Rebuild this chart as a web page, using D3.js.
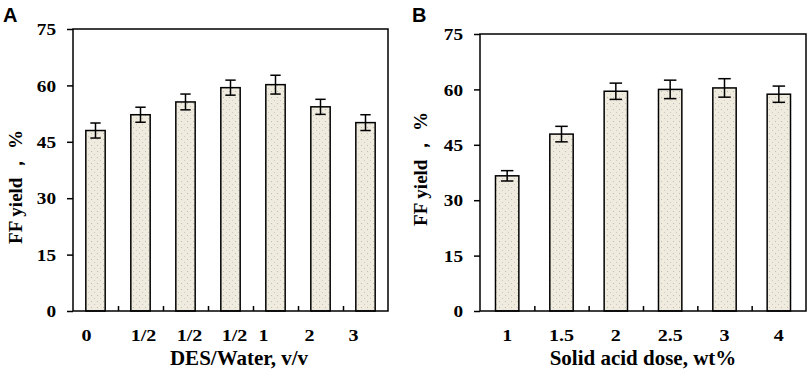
<!DOCTYPE html>
<html>
<head>
<meta charset="utf-8">
<script src="https://cdn.jsdelivr.net/npm/d3@7"></script>
<style>
  body { margin: 0; background: #fff; }
  svg { display: block; }
  .tick text { font-family: "Liberation Serif", "Times New Roman", serif; font-weight: bold; fill: #000; }
</style>
</head>
<body>
<svg id="chart" width="809" height="377"></svg>
<script>
// values
const catsA = ["0", "1/2", "1/2", "1/2", "1", "2", "3"];
const yieldA = [48.0, 52.2, 55.6, 59.4, 60.2, 54.3, 50.1];
const errA = [2.0, 2.0, 2.1, 2.0, 2.5, 2.0, 2.1];
const labelShiftA = [-9, 3, 4, 4, -12, -11, -12];

const catsB = ["1", "1.5", "2", "2.5", "3", "4"];
const yieldB = [36.6, 47.9, 59.5, 60.0, 60.4, 58.7];
const errB = [1.4, 2.1, 2.2, 2.5, 2.5, 2.2];
const labelShiftB = [0, 0, 0, 0, 0, 0];

const yTicks = [0, 15, 30, 45, 60, 75];

const svg = d3.select("#chart");
const serif = '"Liberation Serif", "Times New Roman", serif';

// dotted beige fill used by the bars
const defs = svg.append("defs");
const pat = defs.append("pattern")
    .attr("id", "dots")
    .attr("patternUnits", "userSpaceOnUse")
    .attr("width", 6).attr("height", 6);
pat.append("rect").attr("width", 6).attr("height", 6).attr("fill", "#efebde");
pat.append("circle").attr("cx", 1.5).attr("cy", 1.5).attr("r", 0.55).attr("fill", "#b9b6ad");
pat.append("circle").attr("cx", 4.5).attr("cy", 4.5).attr("r", 0.55).attr("fill", "#c9c6bd");

function drawPanel(p) {
    var n = p.cats.length;
    var g = svg.append("g");

    var x = d3.scaleBand()
        .domain(d3.range(n))
        .range([p.left, p.right])
        .padding(0);
    var xEdge = d3.scaleLinear().domain([0, n]).range([p.left, p.right]);
    var y = d3.scaleLinear().domain([0, 75]).range([p.bottom, p.top]);

    var bw = x.bandwidth() * 0.43;
    var cap = x.bandwidth() * 0.23;

    // bars
    g.selectAll("rect.bar")
        .data(p.values)
        .enter()
        .append("rect")
        .attr("class", "bar")
        .attr("x", (d, i) => x(i) + x.bandwidth() / 2 - bw / 2)
        .attr("y", d => y(d))
        .attr("width", bw)
        .attr("height", d => y(0) - y(d))
        .attr("fill", "url(#dots)")
        .attr("stroke", "#000")
        .attr("stroke-width", 1.5);

    // error bars
    var eb = g.selectAll("g.err")
        .data(p.values)
        .enter()
        .append("g")
        .attr("class", "err")
        .attr("stroke", "#000")
        .attr("stroke-width", 1.5);
    eb.append("line")
        .attr("x1", (d, i) => x(i) + x.bandwidth() / 2)
        .attr("x2", (d, i) => x(i) + x.bandwidth() / 2)
        .attr("y1", (d, i) => y(d + p.errs[i]))
        .attr("y2", (d, i) => y(d - p.errs[i]));
    eb.append("line")
        .attr("x1", (d, i) => x(i) + x.bandwidth() / 2 - cap / 2)
        .attr("x2", (d, i) => x(i) + x.bandwidth() / 2 + cap / 2)
        .attr("y1", (d, i) => y(d + p.errs[i]))
        .attr("y2", (d, i) => y(d + p.errs[i]));
    eb.append("line")
        .attr("x1", (d, i) => x(i) + x.bandwidth() / 2 - cap / 2)
        .attr("x2", (d, i) => x(i) + x.bandwidth() / 2 + cap / 2)
        .attr("y1", (d, i) => y(d - p.errs[i]))
        .attr("y2", (d, i) => y(d - p.errs[i]));

    // frame
    g.append("rect")
        .attr("x", p.left).attr("y", p.top)
        .attr("width", p.right - p.left).attr("height", p.bottom - p.top)
        .attr("fill", "none")
        .attr("stroke", "#000")
        .attr("stroke-width", 1.5);

    // y axis
    var yAxis = g.append("g")
        .attr("transform", "translate(" + p.left + ",0)")
        .call(d3.axisLeft(y).tickValues(yTicks).tickSize(6).tickSizeOuter(0).tickPadding(12));
    yAxis.select(".domain").remove();
    yAxis.selectAll(".tick line").attr("stroke-width", 1.5);
    yAxis.selectAll(".tick text")
        .attr("font-size", 17.5)
        .attr("x", 0)
        .attr("transform", "translate(-17,0) scale(1.1,1)");

    // x ticks between categories (inside)
    var xTickAxis = g.append("g")
        .attr("transform", "translate(0," + p.bottom + ")")
        .call(d3.axisBottom(xEdge).tickValues(d3.range(1, n)).tickSize(-5).tickSizeOuter(0).tickFormat(""));
    xTickAxis.select(".domain").remove();
    xTickAxis.selectAll(".tick line").attr("stroke-width", 1.5);

    // x labels
    var xAxis = g.append("g")
        .attr("transform", "translate(0," + p.bottom + ")")
        .call(d3.axisBottom(x).tickSize(0).tickPadding(18).tickFormat(i => p.cats[i]));
    xAxis.select(".domain").remove();
    xAxis.selectAll(".tick text")
        .attr("font-size", 17)
        .attr("transform", (d, i) => "translate(" + p.shift[i] + ",0) scale(1.18,1)");

    // axis titles
    g.append("text")
        .attr("x", p.xTitleX).attr("y", 365)
        .attr("text-anchor", "middle")
        .attr("font-family", serif).attr("font-weight", "bold").attr("font-size", 21)
        .text(p.xTitle);

    g.append("text")
        .attr("transform", "translate(" + p.yTitleX + "," + p.yTitleY + ") rotate(-90)")
        .attr("text-anchor", "middle")
        .attr("font-family", serif).attr("font-weight", "bold").attr("font-size", 19)
        .attr("xml:space", "preserve")
        .text("FF yield \uFF0C %");

    // panel letter
    g.append("text")
        .attr("x", p.letterX).attr("y", 22)
        .attr("font-family", '"Liberation Sans", Arial, sans-serif')
        .attr("font-weight", "bold").attr("font-size", 20)
        .text(p.letter);
}

drawPanel({
    cats: catsA, values: yieldA, errs: errA, shift: labelShiftA,
    left: 73, right: 388, top: 29, bottom: 311,
    xTitle: "DES/Water, v/v", xTitleX: 239,
    yTitleX: 22, yTitleY: 187,
    letter: "A", letterX: 3
});

drawPanel({
    cats: catsB, values: yieldB, errs: errB, shift: labelShiftB,
    left: 480, right: 806, top: 34, bottom: 311,
    xTitle: "Solid acid dose, wt%", xTitleX: 643,
    yTitleX: 427, yTitleY: 169,
    letter: "B", letterX: 412
});
</script>
</body>
</html>
